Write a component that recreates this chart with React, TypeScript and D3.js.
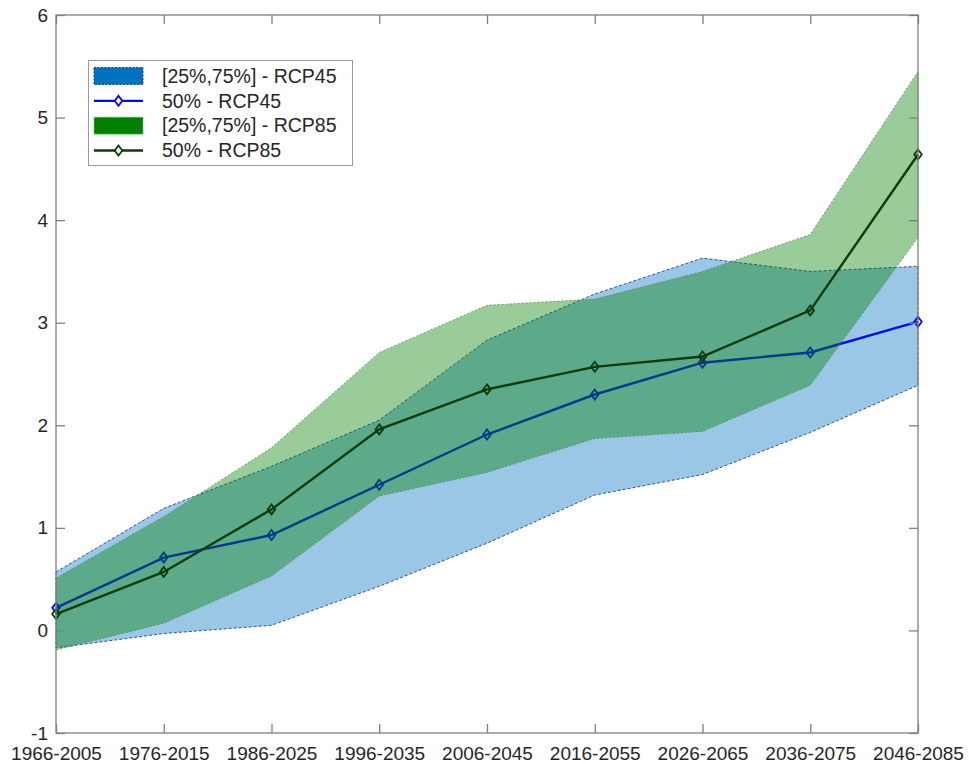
import { useEffect, useRef } from "react";
import * as d3 from "d3";

const categories = [
  "1966-2005",
  "1976-2015",
  "1986-2025",
  "1996-2035",
  "2006-2045",
  "2016-2055",
  "2026-2065",
  "2036-2075",
  "2046-2085",
];

// RCP45 quartile band and median
const rcp45Low = [-0.17, -0.03, 0.05, 0.43, 0.85, 1.32, 1.52, 1.93, 2.39];
const rcp45High = [0.57, 1.19, 1.6, 2.05, 2.83, 3.28, 3.63, 3.5, 3.55];
const rcp45Median = [0.22, 0.71, 0.93, 1.42, 1.91, 2.3, 2.61, 2.71, 3.01];

// RCP85 quartile band and median
const rcp85Low = [-0.19, 0.07, 0.53, 1.31, 1.54, 1.87, 1.94, 2.39, 3.83];
const rcp85High = [0.51, 1.11, 1.78, 2.71, 3.17, 3.23, 3.5, 3.86, 5.45];
const rcp85Median = [0.16, 0.57, 1.18, 1.96, 2.35, 2.57, 2.67, 3.12, 4.64];

const yTicks = [-1, 0, 1, 2, 3, 4, 5, 6];

const legendItems = [
  { label: "[25%,75%] - RCP45", kind: "band", fill: "#0072bd", edge: "#1f3f9a" },
  { label: "50% - RCP45", kind: "line", stroke: "#0a0ae6" },
  { label: "[25%,75%] - RCP85", kind: "band", fill: "#008000", edge: "#66cc66" },
  { label: "50% - RCP85", kind: "line", stroke: "#0b3d0b" },
];

const W = 969;
const H = 764;
const FONT = "'Liberation Sans', Arial, sans-serif";
const diamond = "M0,-5L3.8,0L0,5L-3.8,0Z";

const App = () => {
  const svgRef = useRef<SVGSVGElement>(null);

  useEffect(() => {
    const margin = { top: 15, right: 51, bottom: 31, left: 56 };
    const svg = d3.select(svgRef.current);
    svg.selectAll("*").remove();

    const x = d3
      .scalePoint<string>()
      .domain(categories)
      .range([margin.left, W - margin.right]);

    const y = d3
      .scaleLinear()
      .domain([-1, 6])
      .range([H - margin.bottom, margin.top]);

    const rows45 = categories.map((c, i) => ({
      c,
      lo: rcp45Low[i],
      hi: rcp45High[i],
      med: rcp45Median[i],
    }));
    const rows85 = categories.map((c, i) => ({
      c,
      lo: rcp85Low[i],
      hi: rcp85High[i],
      med: rcp85Median[i],
    }));

    const area = d3
      .area<any>()
      .x((d) => x(d.c)!)
      .y0((d) => y(d.lo))
      .y1((d) => y(d.hi));

    const line = d3
      .line<any>()
      .x((d) => x(d.c)!)
      .y((d) => y(d.med));

    // white background
    svg.append("rect").attr("width", W).attr("height", H).attr("fill", "#fff");

    // blue band
    svg
      .append("path")
      .datum(rows45)
      .attr("d", (d) => area(d) + "Z")
      .attr("fill", "#0072bd")
      .attr("fill-opacity", 0.4)
      .attr("stroke", "#1f3f9a")
      .attr("stroke-width", 0.9)
      .attr("stroke-dasharray", "3,2");

    const drawMedian = (rows: any[], color: string) => {
      svg
        .append("path")
        .datum(rows)
        .attr("d", line)
        .attr("fill", "none")
        .attr("stroke", color)
        .attr("stroke-width", 2.4);
      svg
        .selectAll(null)
        .data(rows)
        .enter()
        .append("path")
        .attr("d", diamond)
        .attr("transform", (d) => `translate(${x(d.c)},${y(d.med)})`)
        .attr("fill", "none")
        .attr("stroke", color)
        .attr("stroke-width", 1.8);
    };

    drawMedian(rows45, "#0a0ae6");

    // green band drawn over the blue median
    svg
      .append("path")
      .datum(rows85)
      .attr("d", (d) => area(d) + "Z")
      .attr("fill", "#008000")
      .attr("fill-opacity", 0.4)
      .attr("stroke", "#5e8f5e")
      .attr("stroke-width", 0.8)
      .attr("stroke-dasharray", "2,2");

    drawMedian(rows85, "#0b3d0b");

    // axes (MATLAB style, ticks inward on all four sides)
    const tickLen = 9;
    const axisColor = "#808080";

    const left = svg
      .append("g")
      .attr("transform", `translate(${margin.left},0)`)
      .call(
        d3
          .axisLeft(y)
          .tickValues(yTicks)
          .tickFormat((d) => String(d))
          .tickSizeInner(-tickLen)
          .tickSizeOuter(0)
          .tickPadding(8)
      );

    const right = svg
      .append("g")
      .attr("transform", `translate(${W - margin.right},0)`)
      .call(
        d3
          .axisRight(y)
          .tickValues(yTicks)
          .tickFormat(() => "")
          .tickSizeInner(-tickLen)
          .tickSizeOuter(0)
      );

    const bottom = svg
      .append("g")
      .attr("transform", `translate(0,${H - margin.bottom})`)
      .call(
        d3
          .axisBottom(x)
          .tickSizeInner(-tickLen)
          .tickSizeOuter(0)
          .tickPadding(13.5)
      );

    const top = svg
      .append("g")
      .attr("transform", `translate(0,${margin.top})`)
      .call(
        d3
          .axisTop(x)
          .tickFormat(() => "")
          .tickSizeInner(-tickLen)
          .tickSizeOuter(0)
      );

    [left, right, bottom, top].forEach((g) => {
      g.select(".domain").remove();
      g.selectAll(".tick line")
        .attr("stroke", axisColor)
        .attr("stroke-width", 1.3);
      g.selectAll(".tick text")
        .attr("fill", "#262626")
        .style("font-family", FONT)
        .style("font-size", "19px");
    });

    // box
    svg
      .append("rect")
      .attr("x", margin.left)
      .attr("y", margin.top)
      .attr("width", W - margin.left - margin.right)
      .attr("height", H - margin.top - margin.bottom)
      .attr("fill", "none")
      .attr("stroke", axisColor)
      .attr("stroke-width", 1.3);

    // legend
    const legend = svg.append("g");
    legend
      .append("rect")
      .attr("x", 88.5)
      .attr("y", 60.5)
      .attr("width", 264)
      .attr("height", 105)
      .attr("fill", "#fff")
      .attr("stroke", "#9a9a9a")
      .attr("stroke-width", 1);

    const rowY = d3.scaleLinear().domain([0, 3]).range([76, 150.5]);

    legendItems.forEach((item, i) => {
      const cy = rowY(i);
      if (item.kind === "band") {
        legend
          .append("rect")
          .attr("x", 94)
          .attr("y", cy - 8.5)
          .attr("width", 49)
          .attr("height", 17)
          .attr("fill", item.fill!)
          .attr("stroke", item.edge!)
          .attr("stroke-width", 1)
          .attr("stroke-dasharray", "2,1.5");
      } else {
        legend
          .append("line")
          .attr("x1", 94)
          .attr("x2", 143)
          .attr("y1", cy)
          .attr("y2", cy)
          .attr("stroke", item.stroke!)
          .attr("stroke-width", 2.4);
        legend
          .append("path")
          .attr("d", diamond)
          .attr("transform", `translate(118.5,${cy})`)
          .attr("fill", "#fff")
          .attr("stroke", item.stroke!)
          .attr("stroke-width", 1.8);
      }
      legend
        .append("text")
        .attr("x", 162)
        .attr("y", cy)
        .attr("dy", "0.35em")
        .attr("fill", "#262626")
        .style("font-family", FONT)
        .style("font-size", "19.5px")
        .text(item.label);
    });
  }, []);

  return (
    <div style={{ position: "absolute", left: 0, top: 0 }}>
      <svg ref={svgRef} width={W} height={H} style={{ display: "block" }} />
    </div>
  );
};

export default App;
